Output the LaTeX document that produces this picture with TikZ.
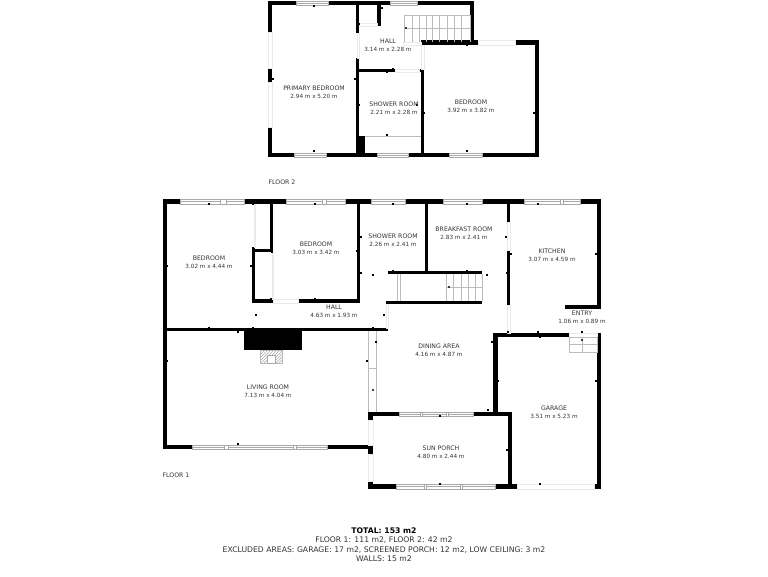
\documentclass[tikz,border=0pt]{standalone}
\usepackage{fontspec}
\setmainfont{DejaVu Sans}
\usetikzlibrary{patterns}
\usetikzlibrary{arrows}
\definecolor{labelgray}{HTML}{333333}
\definecolor{panegray}{HTML}{A8A8A8}
\definecolor{treadgray}{HTML}{BBBBBB}
\definecolor{openinggray}{HTML}{EAEAEA}
\newcommand{\rname}[1]{{\fontsize{6.2}{8}\selectfont #1}}
\tikzset{
  wallfill/.style={fill=black},
  panebox/.style={draw=panegray,fill=white,line width=0.5pt},
  panemid/.style={draw=panegray,line width=0.3pt},
  openingbox/.style={draw=openinggray,fill=white,line width=0.5pt},
  treadline/.style={draw=treadgray,line width=0.6pt},
  tickdot/.style={fill=black},
  roomlabel/.style={align=center,inner sep=0pt,text=labelgray,font=\fontsize{5.7}{8}\selectfont},
  footlabel/.style={align=center,inner sep=0pt,text=labelgray,font=\fontsize{7.7}{9.4}\selectfont}
}
\begin{document}
\begin{tikzpicture}[x=1pt,y=-1pt]
\useasboundingbox (0,0) rectangle (768,576);
% walls floor 2
\foreach \xa/\ya/\xb/\yb in {268/1/474/5,268/1/272/32,268/68/272/82,268/127/272/157,268/153/539/157,
  356/1/359/33,356/58/359/153,356/136/365/157,377/5/381/26,359/69/395/72,419/69/424/72,421/69/424/157,
  421/40/478/45,515/40/539/45,535/40/539/157,470/1/474/45}
  \fill[wallfill] (\xa,\ya) rectangle (\xb,\yb);
% walls floor 1
\foreach \xa/\ya/\xb/\yb in {163/199/601/204,163/199/167/449,270/204/272.5/252,252/249/272/252,252/247/255/303,
  252/299/273/303,298/299/360/303,357/204/360/303,167/328/388/331,244/331/302/350,386/301/482/304,388/271/482/274,
  425/204/428/271,507/204/510/222,507/250/510/305,597/199/601/309,565/305/601/309,493/333/569/337,597/333/601/337,
  493/333/498/412,597/333/601/489,594/484/601/489,368/412/512/416,508/412/512/489,368/484/517/489,368/412/373/420,
  368/445/373/454,368/481/373/489,163/445/368/449}
  \fill[wallfill] (\xa,\ya) rectangle (\xb,\yb);
% windows
\foreach \xa/\ya/\xb/\yb in {296/1/328/5,390/1/417/5,294/153/326/157,377/153/408/157,449/153/482/157,
  180/199/244/204,286/199/345/204,371/199/405/204,443/199/482/204,524/199/580/204,
  192/445/327/449,399/412/473/416,396/484/495/489}
{
  \filldraw[panebox] (\xa,\ya) rectangle (\xb,\yb);
  \draw[panemid] (\xa,{(\ya+\yb)/2}) -- (\xb,{(\ya+\yb)/2});
}
\foreach \xa/\ya/\xb/\yb in {220/199/226/204,322/199/326/204,560/199/563/204,224/445/228/449,293/445/296/449,
  420/412/422/416,446/412/448/416,424/484/426/489,460/484/462/489}
  \filldraw[panebox] (\xa,\ya) rectangle (\xb,\yb);
% door openings
\foreach \xa/\ya/\xb/\yb in {268/32/272/68,268/82/272/127,357/33/359/58,359/23/377/26,395/69/419/72,421/45/424/69,
  403/42/421/45,478/40/515/45,273/299/298/303,386/304/388/328,507/222/510/250,507/305/510/333,569/333/597/337,
  517/484/594/489,368/420/373/445,368/454/373/481,254/204/255/247,272/252/273/299}
  \filldraw[openingbox] (\xa,\ya) rectangle (\xb,\yb);
\draw[treadline] (365,136) -- (421,136);
% stairs floor 2
\foreach \xs in {404,412,419,426,432,439,447,454,461,470}
  \draw[treadline] (\xs,15) -- (\xs,42);
\draw[treadline] (404,15) -- (470,15);
\draw[treadline] (404,28) -- (470,28);
% stairs floor 1
\foreach \xs in {446,453,461,468,475,482}
  \draw[treadline] (\xs,274) -- (\xs,301);
\draw[treadline] (446,287) -- (482,287);
\draw[treadline] (397,274) -- (397,301);
\draw[treadline] (400,274) -- (400,301);
% entry steps
\draw[treadline] (569,337) rectangle (597,352);
\draw[treadline] (569,344) -- (597,344);
\draw[treadline] (582,337) -- (582,352);
% dining area strip
\draw[treadline] (368,331) -- (368,412);
\draw[treadline] (376,331) -- (376,412);
\draw[treadline] (368,368) -- (376,368);
% fireplace
\fill[pattern=north east lines,pattern color=panegray] (260,350) rectangle (282,363);
\draw[treadline] (260,350) rectangle (282,363);
\filldraw[panebox] (267,355) rectangle (275,363);
% small marks
\foreach \xd/\yd in {314/6,314/151,273/79,355/79,359/105,387/72,393/69,387/135,417/105,424/113,467/45,467/151,534/113,382/8,
  359/24,209/204,253/204,315/204,167/266,251/266,272/252,271/299,315/299,357/251,361/237,361/273,373/275,256/315,384/315,
  209/328,253/328,238/332,373/328,376/342,393/204,467/204,538/204,426/237,506/237,511/254,507/273,487/275,393/271,467/271,
  596/254,508/332,538/332,582/332,492/342,167/361,367/361,238/444,498/381,596/381,540/337,440/416,488/410,507/450,372/450,
  440/484,540/484}
  \fill[tickdot] (\xd-0.55,\yd-0.55) rectangle (\xd+0.55,\yd+0.55);
\foreach \xd/\yd in {406/28,449/287,373/390,582/340}
  \fill[tickdot] (\xd,\yd) circle (1.1);
% room labels floor 2
\node[roomlabel] (hallupper) at (388,45) {\rname{HALL}\\3.14 m x 2.28 m};
\node[roomlabel] (primarybed) at (314,92) {\rname{PRIMARY BEDROOM}\\2.94 m x 5.20 m};
\node[roomlabel] (showerupper) at (394,108.5) {\rname{SHOWER ROOM}\\2.21 m x 2.28 m};
\node[roomlabel] (bedupper) at (471,106) {\rname{BEDROOM}\\3.92 m x 3.82 m};
\node[roomlabel] (floortwo) at (282,182) {\rname{FLOOR 2}};
% room labels floor 1
\node[roomlabel] (bedleft) at (209,262) {\rname{BEDROOM}\\3.02 m x 4.44 m};
\node[roomlabel] (bedmid) at (316,248.5) {\rname{BEDROOM}\\3.03 m x 3.42 m};
\node[roomlabel] (showerlower) at (393,240) {\rname{SHOWER ROOM}\\2.26 m x 2.41 m};
\node[roomlabel] (halllower) at (334,311) {\rname{HALL}\\4.63 m x 1.93 m};
\node[roomlabel] (breakfast) at (464,233) {\rname{BREAKFAST ROOM}\\2.83 m x 2.41 m};
\node[roomlabel] (kitchen) at (552,255) {\rname{KITCHEN}\\3.07 m x 4.59 m};
\node[roomlabel] (entry) at (582,317) {\rname{ENTRY}\\1.06 m x 0.89 m};
\node[roomlabel] (dining) at (439,350) {\rname{DINING AREA}\\4.16 m x 4.87 m};
\node[roomlabel] (living) at (268,391) {\rname{LIVING ROOM}\\7.13 m x 4.04 m};
\node[roomlabel] (garage) at (554,412) {\rname{GARAGE}\\3.51 m x 5.23 m};
\node[roomlabel] (sunporch) at (441,452) {\rname{SUN PORCH}\\4.80 m x 2.44 m};
\node[roomlabel] (floorone) at (176,475) {\rname{FLOOR 1}};
% totals
\node[footlabel] (totals) at (384,544.5) {\textcolor{black}{\textbf{TOTAL: 153 m2}}\\FLOOR 1: 111 m2, FLOOR 2: 42 m2\\EXCLUDED AREAS: GARAGE: 17 m2, SCREENED PORCH: 12 m2, LOW CEILING: 3 m2\\WALLS: 15 m2};
\end{tikzpicture}
\end{document}
